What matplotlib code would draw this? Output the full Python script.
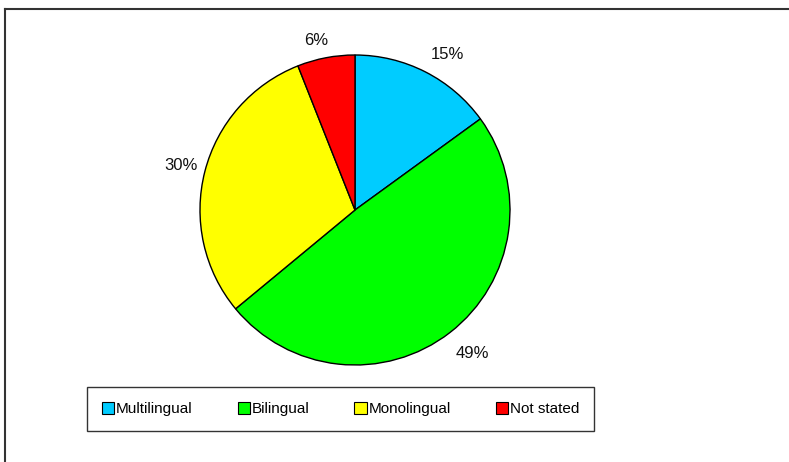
import matplotlib
matplotlib.use("Agg")
import matplotlib.pyplot as plt
from matplotlib.lines import Line2D
from matplotlib.transforms import ScaledTranslation

categories = ["Multilingual", "Bilingual", "Monolingual", "Not stated"]
values = [15, 49, 30, 6]
labels = ["15%", "49%", "30%", "6%"]
colors = ["#00CCFF", "#00FF00", "#FFFF00", "#FF0000"]
# small label nudges (pixels: right, up)
label_nudge = [(10, -6), (6, 0), (2, -1), (-5, -9)]

plt.rcParams['font.family'] = ['Liberation Sans', 'DejaVu Sans']

W, H = 789, 462
fig = plt.figure(figsize=(W / 100, H / 100), dpi=100)
fig.patch.set_facecolor("white")

cx, cy, r = 355, 210, 155
ax = fig.add_axes([(cx - r) / W, (H - cy - r) / H, 2 * r / W, 2 * r / H])
wedges, texts = ax.pie(values, labels=labels, colors=colors, startangle=90,
                       counterclock=False, labeldistance=1.17,
                       wedgeprops=dict(edgecolor="black", linewidth=1.0),
                       textprops=dict(fontsize=12, color="#111111"))
for t, (dx, dy) in zip(texts, label_nudge):
    t.set_horizontalalignment("center")
    t.set_verticalalignment("center")
    t.set_transform(ax.transData + ScaledTranslation(dx / 100, dy / 100, fig.dpi_scale_trans))
ax.set_xlim(-1, 1)
ax.set_ylim(-1, 1)
ax.set_aspect("equal")
ax.axis("off")

leg = fig.legend(wedges, categories, loc="center",
                 bbox_to_anchor=((83 + 598) / 2 / W, 1 - 409 / H),
                 ncol=4, fontsize=11, frameon=True, fancybox=False,
                 edgecolor="black", handlelength=0.8, handleheight=0.8,
                 handletextpad=0.12, columnspacing=2.95,
                 borderpad=0.95, borderaxespad=0)
leg.get_frame().set_linewidth(1.0)
for h in leg.legend_handles:
    h.set_edgecolor("black")
    h.set_linewidth(0.8)

# outer frame (left and top edges)
fig.add_artist(Line2D([5 / W, 5 / W], [0, 1 - 9 / H], transform=fig.transFigure,
                      color="#333333", linewidth=1.5))
fig.add_artist(Line2D([5 / W, 1], [1 - 9 / H, 1 - 9 / H], transform=fig.transFigure,
                      color="#333333", linewidth=1.5))

fig.savefig("out.png", dpi=100)
